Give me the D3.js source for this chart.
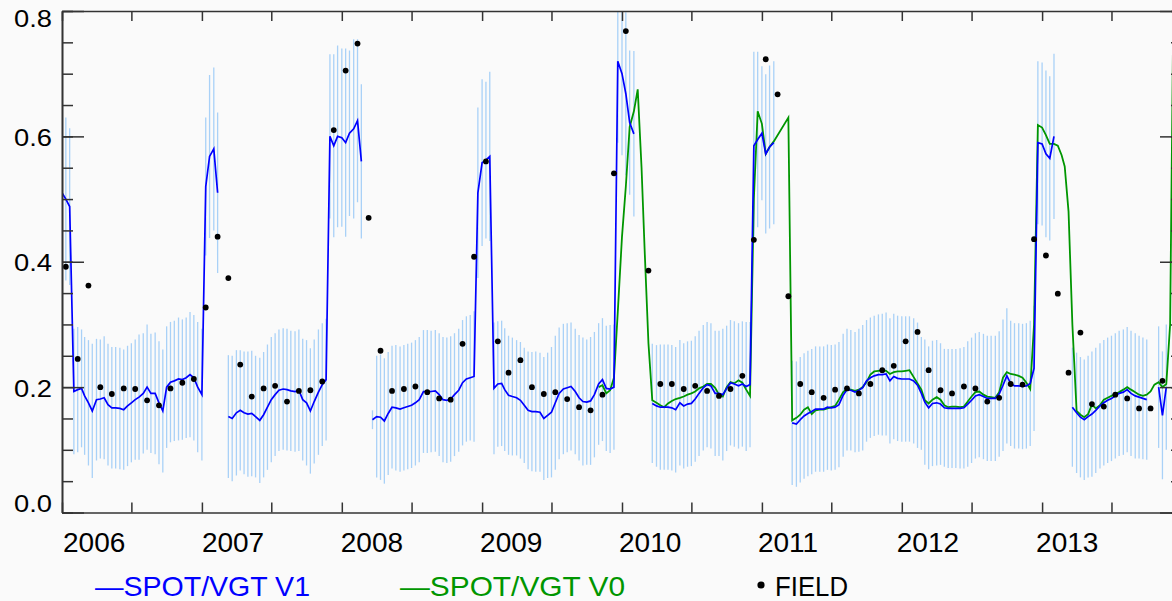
<!DOCTYPE html>
<html>
<head>
<meta charset="utf-8">
<script src="https://cdn.jsdelivr.net/npm/d3@7"></script>
<style>
  body { margin: 0; background: #fafafa; }
  svg { display: block; font-family: "Liberation Sans", Arial, sans-serif; }
</style>
</head>
<body>
<div id="chart"></div>
<script>
// LAI time series: SPOT/VGT V1 (with uncertainty bars), SPOT/VGT V0, field measurements
// Satellite series are dekadal (1st, 11th, 21st of each month), one array of 36 per year

const years = [2006, 2007, 2008, 2009, 2010, 2011, 2012, 2013];

const v1_2006 = [0.51, 0.50, 0.488, 0.193, 0.196, 0.198, 0.186, 0.175, 0.162, 0.18, 0.181, 0.183,
  0.172, 0.167, 0.167, 0.166, 0.164, 0.17, 0.175, 0.18, 0.184, 0.19, 0.2, 0.19,
  0.19, 0.175, 0.162, 0.2, 0.208, 0.21, 0.213, 0.212, 0.215, 0.22, 0.215, 0.2];
const v1_2007 = [0.188, 0.52, 0.568, 0.58, 0.51, null, null, 0.153, 0.15, 0.159, 0.163, 0.159,
  0.157, 0.158, 0.153, 0.147, 0.156, 0.168, 0.18, 0.188, 0.195, 0.197, 0.196, 0.194,
  0.193, 0.195, 0.18, 0.175, 0.162, 0.177, 0.192, 0.204, 0.212, 0.6, 0.585, 0.6];
const v1_2008 = [0.598, 0.59, 0.605, 0.612, 0.625, 0.56, null, null, 0.148, 0.153, 0.152, 0.146,
  0.158, 0.168, 0.167, 0.165, 0.167, 0.169, 0.171, 0.175, 0.18, 0.193, 0.193, 0.193,
  0.194, 0.188, 0.18, 0.179, 0.181, 0.188, 0.195, 0.207, 0.213, 0.215, 0.217, 0.51];
const v1_2009 = [0.558, 0.562, 0.568, 0.198, 0.205, 0.206, 0.196, 0.187, 0.185, 0.183, 0.179, 0.171,
  0.163, 0.161, 0.161, 0.16, 0.15, 0.155, 0.16, 0.175, 0.19, 0.197, 0.199, 0.201,
  0.193, 0.183, 0.177, 0.176, 0.178, 0.188, 0.205, 0.212, 0.198, 0.197, 0.2, 0.72];
const v1_2010 = [0.70, 0.668, 0.622, 0.604, null, null, null, null, 0.174, 0.17, 0.168, 0.168,
  0.168, 0.167, 0.164, 0.175, 0.17, 0.173, 0.174, 0.181, 0.19, 0.199, 0.204, 0.202,
  0.19, 0.19, 0.188, 0.198, 0.207, 0.205, 0.202, 0.205, 0.201, 0.204, 0.585, 0.595];
const v1_2011 = [0.605, 0.572, 0.583, 0.59, null, null, null, null, 0.143, 0.141, 0.148, 0.154,
  0.158, 0.161, 0.165, 0.165, 0.165, 0.168, 0.167, 0.168, 0.172, 0.187, 0.196, 0.195,
  0.192, 0.195, 0.199, 0.21, 0.215, 0.218, 0.22, 0.22, 0.221, 0.21, 0.217, 0.214];
const v1_2012 = [0.213, 0.213, 0.213, 0.21, 0.203, 0.19, 0.176, 0.167, 0.174, 0.175, 0.173, 0.167,
  0.166, 0.166, 0.166, 0.166, 0.167, 0.173, 0.179, 0.186, 0.188, 0.185, 0.182, 0.182,
  0.182, 0.189, 0.203, 0.218, 0.206, 0.202, 0.202, 0.201, 0.202, 0.206, 0.23, 0.59];
const v1_2013 = [0.588, 0.572, 0.565, 0.6, null, null, null, null, 0.168, 0.159, 0.152, 0.148,
  0.153, 0.157, 0.163, 0.17, 0.175, 0.179, 0.182, 0.186, 0.19, 0.192, 0.196, 0.19,
  0.186, 0.184, 0.182, 0.18, null, null, 0.2, 0.155, 0.2, null, null, null];

// half-length of the V1 uncertainty bars
const unc_2006 = [0.13, 0.13, 0.125, 0.1, 0.1, 0.094, 0.094, 0.1, 0.107, 0.097, 0.095, 0.098,
  0.097, 0.097, 0.097, 0.097, 0.096, 0.096, 0.095, 0.096, 0.1, 0.096, 0.1, 0.095,
  0.097, 0.098, 0.098, 0.097, 0.096, 0.096, 0.098, 0.096, 0.096, 0.1, 0.1, 0.104];
const unc_2007 = [0.105, 0.11, 0.13, 0.13, 0.128, null, null, 0.098, 0.1, 0.1, 0.096, 0.098,
  0.1, 0.1, 0.097, 0.1, 0.1, 0.1, 0.1, 0.098, 0.097, 0.097, 0.097, 0.096,
  0.096, 0.097, 0.097, 0.1, 0.1, 0.099, 0.1, 0.098, 0.097, 0.131, 0.146, 0.145];
const unc_2008 = [0.142, 0.15, 0.132, 0.143, 0.13, 0.123, null, null, 0.015, 0.097, 0.1, 0.1,
  0.098, 0.098, 0.1, 0.1, 0.1, 0.1, 0.1, 0.1, 0.1, 0.098, 0.098, 0.097,
  0.097, 0.098, 0.1, 0.1, 0.1, 0.098, 0.098, 0.1, 0.1, 0.1, 0.104, 0.136];
const unc_2009 = [0.133, 0.125, 0.135, 0.105, 0.1, 0.1, 0.098, 0.095, 0.094, 0.092, 0.093, 0.092,
  0.094, 0.095, 0.096, 0.095, 0.098, 0.1, 0.104, 0.107, 0.105, 0.104, 0.103, 0.102,
  0.1, 0.1, 0.102, 0.1, 0.102, 0.1, 0.097, 0.098, 0.1, 0.102, 0.1, 0.13];
const unc_2010 = [0.13, 0.13, 0.115, 0.132, null, null, null, null, 0.095, 0.097, 0.1, 0.1,
  0.1, 0.1, 0.1, 0.1, 0.1, 0.1, 0.1, 0.1, 0.1, 0.1, 0.1, 0.1,
  0.1, 0.1, 0.105, 0.1, 0.1, 0.1, 0.1, 0.1, 0.103, 0.1, 0.15, 0.14];
const unc_2011 = [0.107, 0.127, 0.13, 0.13, null, null, null, null, 0.099, 0.1, 0.1, 0.1,
  0.1, 0.1, 0.1, 0.1, 0.1, 0.1, 0.1, 0.1, 0.1, 0.098, 0.097, 0.096,
  0.096, 0.098, 0.1, 0.097, 0.096, 0.096, 0.096, 0.097, 0.098, 0.1, 0.1, 0.1];
const unc_2012 = [0.1, 0.1, 0.1, 0.1, 0.1, 0.09, 0.1, 0.098, 0.1, 0.1, 0.097, 0.094,
  0.095, 0.095, 0.095, 0.096, 0.097, 0.1, 0.1, 0.1, 0.1, 0.1, 0.1, 0.1,
  0.1, 0.1, 0.105, 0.108, 0.1, 0.1, 0.1, 0.1, 0.1, 0.1, 0.1, 0.13];
const unc_2013 = [0.13, 0.133, 0.131, 0.132, null, null, null, null, 0.095, 0.096, 0.096, 0.096,
  0.097, 0.1, 0.1, 0.1, 0.1, 0.1, 0.1, 0.1, 0.1, 0.1, 0.1, 0.1,
  0.1, 0.098, 0.097, 0.096, null, null, 0.097, 0.102, 0.1, null, null, null];

// V0 only exists from late 2009
const v0_2009 = [null, null, null, null, null, null, null, null, null, null, null, null,
  null, null, null, null, null, null, null, null, null, null, null, null,
  null, null, null, null, null, null, 0.2, 0.203, 0.19, 0.195, 0.215, 0.32];
const v0_2010 = [0.44, 0.52, 0.615, 0.64, 0.675, 0.55, 0.42, 0.27, 0.179, 0.175, 0.171, 0.168,
  0.174, 0.178, 0.181, 0.183, 0.185, 0.188, 0.19, 0.193, 0.198, 0.201, 0.205, 0.205,
  0.199, 0.188, 0.185, 0.2, 0.208, 0.206, 0.211, 0.207, 0.196, 0.186, 0.5, 0.64];
const v0_2011 = [0.62, 0.572, 0.583, 0.592, null, null, null, 0.63, 0.147, 0.151, 0.156, 0.164,
  0.168, 0.157, 0.163, 0.164, 0.164, 0.166, 0.168, 0.17, 0.18, 0.192, 0.197, 0.196,
  0.194, 0.196, 0.2, 0.208, 0.22, 0.225, 0.226, 0.227, 0.226, 0.221, 0.224, 0.225];
const v0_2012 = [0.225, 0.226, 0.227, 0.216, 0.206, 0.196, 0.179, 0.174, 0.18, 0.184, 0.18, 0.171,
  0.168, 0.169, 0.169, 0.168, 0.169, 0.177, 0.185, 0.192, 0.193, 0.188, 0.185, 0.184,
  0.183, 0.192, 0.215, 0.224, 0.221, 0.22, 0.218, 0.215, 0.207, 0.197, 0.3, 0.618];
const v0_2013 = [0.614, 0.602, 0.588, 0.588, 0.585, 0.57, 0.552, 0.48, 0.3, 0.162, 0.156, 0.152,
  0.157, 0.172, 0.166, 0.171, 0.18, 0.183, 0.186, 0.189, 0.192, 0.196, 0.2, 0.196,
  0.192, 0.188, 0.186, 0.188, 0.193, 0.204, 0.208, 0.2, 0.205, 0.3, 0.9, null];

// field measurements, monthly (around the 11th), Jan..Dec
const field_2006 = [0.392, 0.245, 0.362, 0.2, 0.189, 0.198, 0.197, 0.179, 0.171, 0.198, 0.207, 0.213];
const field_2007 = [0.327, 0.44, 0.374, 0.236, 0.185, 0.198, 0.202, 0.177, 0.194, 0.195, 0.209, 0.61];
const field_2008 = [0.705, 0.748, 0.47, 0.258, 0.194, 0.197, 0.201, 0.192, 0.182, 0.18, 0.269, 0.408];
const field_2009 = [0.56, 0.273, 0.223, 0.243, 0.2, 0.189, 0.192, 0.181, 0.168, 0.163, 0.188, 0.541];
const field_2010 = [0.768, null, 0.386, 0.205, 0.205, 0.197, 0.202, 0.194, 0.186, 0.197, 0.218, 0.435];
const field_2011 = [0.723, 0.667, 0.345, 0.205, 0.192, 0.183, 0.196, 0.198, 0.19, 0.205, 0.227, 0.234];
const field_2012 = [0.273, 0.288, 0.227, 0.195, 0.19, 0.201, 0.198, 0.177, 0.183, 0.205, 0.204, 0.436];
const field_2013 = [0.41, 0.349, 0.223, 0.287, 0.173, 0.169, 0.188, 0.182, 0.166, 0.166, 0.21, null];

const yTicks = [0.0, 0.2, 0.4, 0.6, 0.8];
const legendItems = ['SPOT/VGT V1', 'SPOT/VGT V0', 'FIELD'];

const v1ByYear = [v1_2006, v1_2007, v1_2008, v1_2009, v1_2010, v1_2011, v1_2012, v1_2013];
const uncByYear = [unc_2006, unc_2007, unc_2008, unc_2009, unc_2010, unc_2011, unc_2012, unc_2013];
const v0ByYear = [[], [], [], v0_2009, v0_2010, v0_2011, v0_2012, v0_2013];
const fieldByYear = [field_2006, field_2007, field_2008, field_2009, field_2010, field_2011, field_2012, field_2013];

// build dated records
const dekadDays = [1, 11, 21];
const series = [];
years.forEach((yr, yi) => {
    for (let k = 0; k < 36; k++) {
        series.push({
            date: new Date(Date.UTC(yr, Math.floor(k / 3), dekadDays[k % 3])),
            v1: v1ByYear[yi][k],
            unc: uncByYear[yi][k],
            v0: v0ByYear[yi][k] === undefined ? null : v0ByYear[yi][k]
        });
    }
});
const field = [];
years.forEach((yr, yi) => {
    fieldByYear[yi].forEach((v, m) => {
        if (v != null) field.push({ date: new Date(Date.UTC(yr, m, 11)), v: v });
    });
});

// layout
const W = 1172, H = 601;
const plot = { left: 62, right: 1182, top: 11, bottom: 512.5 };

const svg = d3.select('#chart').append('svg')
    .attr('width', W)
    .attr('height', H);

svg.append('rect').attr('width', W).attr('height', H).attr('fill', '#fafafa');

const x = d3.scaleUtc()
    .domain([new Date(Date.UTC(2006, 0, 1)), new Date(Date.UTC(2014, 0, 1))])
    .range([plot.left, plot.right]);
const y = d3.scaleLinear()
    .domain([0, 0.8])
    .range([plot.bottom, plot.top]);

svg.append('clipPath').attr('id', 'clip')
    .append('rect')
    .attr('x', plot.left).attr('y', plot.top)
    .attr('width', plot.right - plot.left).attr('height', plot.bottom - plot.top);

const g = svg.append('g').attr('clip-path', 'url(#clip)');

// uncertainty bars
g.selectAll('.err')
    .data(series.filter(d => d.v1 != null && d.unc != null))
    .enter().append('line')
    .attr('class', 'err')
    .attr('x1', d => x(d.date)).attr('x2', d => x(d.date))
    .attr('y1', d => y(d.v1 - d.unc)).attr('y2', d => y(d.v1 + d.unc))
    .attr('stroke', '#a9d1f7')
    .attr('stroke-width', 1.3);

// V0 connects across missing dekads
const lineV0 = d3.line().x(d => x(d.date)).y(d => y(d.v0));
g.append('path')
    .datum(series.filter(d => d.v0 != null))
    .attr('d', lineV0)
    .attr('fill', 'none')
    .attr('stroke', '#009600')
    .attr('stroke-width', 1.8);

// V1 breaks at gaps
const lineV1 = d3.line().defined(d => d.v1 != null).x(d => x(d.date)).y(d => y(d.v1));
g.append('path')
    .datum(series)
    .attr('d', lineV1)
    .attr('fill', 'none')
    .attr('stroke', '#0000ff')
    .attr('stroke-width', 1.7);

// field points
g.selectAll('.field')
    .data(field)
    .enter().append('circle')
    .attr('class', 'field')
    .attr('cx', d => x(d.date))
    .attr('cy', d => y(d.v))
    .attr('r', 2.9)
    .attr('fill', '#000');

// axes (ticks point inward on all four sides)
const axisColor = '#333';
function styleAxis(sel) {
    sel.selectAll('path, line').attr('stroke', axisColor).attr('stroke-width', 1.5);
    sel.select('.domain').attr('stroke-width', 1.6);
}
const minorY = y.ticks(16);
svg.append('g').attr('transform', `translate(${plot.left},0)`)
    .call(d3.axisLeft(y).tickValues(minorY).tickSize(-11).tickSizeOuter(0).tickFormat(''))
    .call(styleAxis);
const leftAxis = svg.append('g').attr('transform', `translate(${plot.left},0)`)
    .call(d3.axisLeft(y).tickValues(yTicks).tickSize(-22).tickSizeOuter(0)
        .tickPadding(10).tickFormat(d3.format('.1f')))
    .call(styleAxis);
// end labels are pulled inside the axis range
leftAxis.selectAll('text')
    .attr('font-size', 24)
    .attr('font-family', '"Liberation Sans", Arial, sans-serif')
    .attr('fill', '#000')
    .attr('textLength', 38)
    .attr('lengthAdjust', 'spacingAndGlyphs')
    .attr('dy', d => d === 0.8 ? '15px' : d === 0 ? '-1.5px' : '9px');

svg.append('g').attr('transform', `translate(${plot.right},0)`)
    .call(d3.axisRight(y).tickValues(minorY).tickSize(-11).tickSizeOuter(0).tickFormat(''))
    .call(styleAxis);
svg.append('g').attr('transform', `translate(${plot.right},0)`)
    .call(d3.axisRight(y).tickValues(yTicks).tickSize(-22).tickSizeOuter(0).tickFormat(''))
    .call(styleAxis);

const halfYears = x.ticks(d3.utcMonth.every(6));
svg.append('g').attr('transform', `translate(0,${plot.bottom})`)
    .call(d3.axisBottom(x).tickValues(halfYears).tickSize(-10).tickSizeOuter(0).tickFormat(''))
    .call(styleAxis);
svg.append('g').attr('transform', `translate(0,${plot.top})`)
    .call(d3.axisTop(x).tickValues(halfYears).tickSize(-10).tickSizeOuter(0).tickFormat(''))
    .call(styleAxis);

// year labels
svg.selectAll('.year')
    .data(years)
    .enter().append('text')
    .attr('class', 'year')
    .attr('x', (d, i) => x(new Date(Date.UTC(d, 0, 1))) + 1 - i)
    .attr('y', 552)
    .attr('font-size', 28)
    .attr('fill', '#000')
    .text(d => d);

// legend
const legend = svg.append('g').attr('font-size', 28);
legend.append('text').attr('x', 95).attr('y', 596).attr('fill', '#0000ff')
    .attr('textLength', 215).attr('lengthAdjust', 'spacingAndGlyphs')
    .text('\u2014' + legendItems[0]);
legend.append('text').attr('x', 400).attr('y', 596).attr('fill', '#009600')
    .attr('textLength', 225).attr('lengthAdjust', 'spacingAndGlyphs')
    .text('\u2014' + legendItems[1]);
legend.append('circle').attr('cx', 761).attr('cy', 585).attr('r', 3.6).attr('fill', '#000');
legend.append('text').attr('x', 775).attr('y', 596).attr('fill', '#000')
    .attr('textLength', 73).attr('lengthAdjust', 'spacingAndGlyphs')
    .text(legendItems[2]);
</script>
</body>
</html>
